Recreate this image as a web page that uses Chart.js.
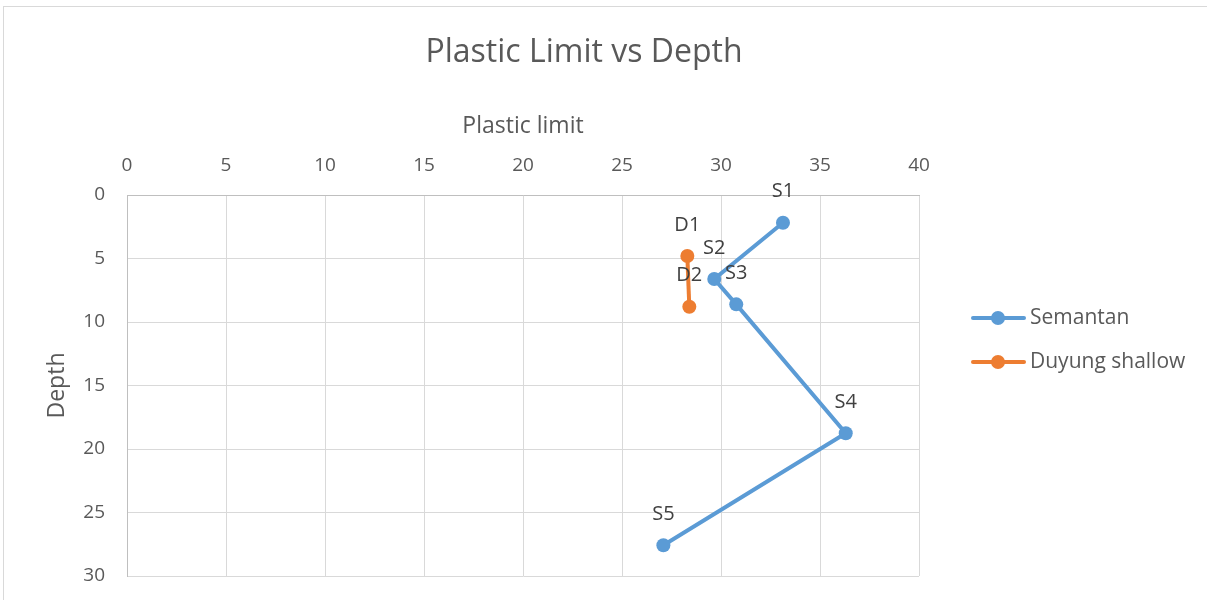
<!DOCTYPE html>
<html>
<head>
<meta charset="utf-8">
<title>Plastic Limit vs Depth</title>
<script src="https://cdn.jsdelivr.net/npm/chart.js@4"></script>
<style>
  body { margin: 0; background: #fff; }
  #wrap { position: relative; width: 1207px; height: 600px; overflow: hidden; }
  #frame { position: absolute; left: 3px; top: 6px; width: 1220px; height: 620px; border: 1px solid #D9D9D9; }
  #chart { position: absolute; left: 0; top: 0; }
</style>
</head>
<body>
<div id="wrap">
  <div id="frame"></div>
  <canvas id="chart" width="1207" height="600"></canvas>
</div>
<script>
const chartTitle = 'Plastic Limit vs Depth';
const seriesNames = ['Semantan', 'Duyung shallow'];

// plastic limit (x) and depth (y) per sample
const semantanPL = [33.13, 29.66, 30.77, 36.30, 27.09];
const semantanDepth = [2.18, 6.61, 8.61, 18.76, 27.58];
const semantanTags = ['S1', 'S2', 'S3', 'S4', 'S5'];

const duyungPL = [28.30, 28.40];
const duyungDepth = [4.80, 8.80];
const duyungTags = ['D1', 'D2'];

const plTicks = [0, 5, 10, 15, 20, 25, 30, 35, 40];
const depthTicks = [0, 5, 10, 15, 20, 25, 30];

const BLUE = '#5B9BD5';
const ORANGE = '#ED7D31';
const TEXT = '#595959';
const FONT = "'Open Sans', 'DejaVu Sans', sans-serif";

function toPoints(xs, ys) {
  return xs.map((x, i) => ({ x: x, y: ys[i] }));
}

// point labels above each marker, plus title and legend
const extras = {
  id: 'extras',
  afterDatasetsDraw(chart) {
    const ctx = chart.ctx;
    ctx.save();
    ctx.font = '20px ' + FONT;
    ctx.fillStyle = '#404040';
    ctx.textAlign = 'center';
    ctx.textBaseline = 'middle';
    chart.data.datasets.forEach((ds, i) => {
      chart.getDatasetMeta(i).data.forEach((pt, j) => {
        ctx.fillText(ds.tags[j], pt.x, pt.y - 31);
      });
    });
    ctx.restore();
  },
  afterDraw(chart) {
    const ctx = chart.ctx;
    ctx.save();
    ctx.fillStyle = TEXT;
    ctx.font = '32px ' + FONT;
    ctx.textAlign = 'center';
    ctx.textBaseline = 'middle';
    ctx.fillText(chartTitle, 584, 53);

    ctx.font = '21px ' + FONT;
    ctx.textAlign = 'left';
    chart.data.datasets.forEach((ds, i) => {
      const y = 318 + i * 44;
      ctx.strokeStyle = ds.borderColor;
      ctx.lineWidth = 4;
      ctx.lineCap = 'round';
      ctx.beginPath();
      ctx.moveTo(973, y);
      ctx.lineTo(1024, y);
      ctx.stroke();
      ctx.fillStyle = ds.backgroundColor;
      ctx.beginPath();
      ctx.arc(998, y, 7, 0, Math.PI * 2);
      ctx.fill();
      ctx.fillStyle = TEXT;
      ctx.fillText(ds.label, 1030, y);
    });
    ctx.restore();
  }
};

new Chart(document.getElementById('chart').getContext('2d'), {
  type: 'scatter',
  data: {
    datasets: [
      {
        label: seriesNames[0],
        data: toPoints(semantanPL, semantanDepth),
        tags: semantanTags,
        showLine: true,
        borderColor: BLUE,
        backgroundColor: BLUE,
        borderWidth: 4,
        pointRadius: 7,
        pointBorderWidth: 0
      },
      {
        label: seriesNames[1],
        data: toPoints(duyungPL, duyungDepth),
        tags: duyungTags,
        showLine: true,
        borderColor: ORANGE,
        backgroundColor: ORANGE,
        borderWidth: 4,
        pointRadius: 7,
        pointBorderWidth: 0
      }
    ]
  },
  options: {
    responsive: false,
    animation: false,
    layout: { padding: { left: 0, top: 0, right: 288, bottom: 24 } },
    plugins: {
      legend: { display: false },
      title: { display: false },
      tooltip: { enabled: false }
    },
    scales: {
      x: {
        type: 'linear',
        position: 'top',
        min: plTicks[0],
        max: plTicks[plTicks.length - 1],
        afterBuildTicks: s => { s.ticks = plTicks.map(v => ({ value: v })); },
        afterFit: s => { s.height = 195; s.paddingLeft = 0; s.paddingRight = 0; },
        ticks: { color: TEXT, font: { family: FONT, size: 19 }, padding: 18 },
        grid: { color: '#D9D9D9', drawTicks: false },
        border: { color: '#BFBFBF' },
        title: {
          display: true,
          text: 'Plastic limit',
          color: TEXT,
          font: { family: FONT, size: 23 },
          padding: { top: 113, bottom: 0 }
        }
      },
      y: {
        type: 'linear',
        reverse: true,
        min: depthTicks[0],
        max: depthTicks[depthTicks.length - 1],
        afterBuildTicks: s => { s.ticks = depthTicks.map(v => ({ value: v })); },
        // keep the plot edges fixed; labels may hang past them
        afterFit: s => { s.width = 127; s.paddingTop = 0; s.paddingBottom = 0; },
        ticks: { color: TEXT, font: { family: FONT, size: 19 }, padding: 22 },
        grid: { color: '#D9D9D9', drawTicks: false },
        border: { color: '#BFBFBF' },
        title: {
          display: true,
          text: 'Depth',
          color: TEXT,
          font: { family: FONT, size: 23 },
          padding: { top: 44, bottom: 0 }
        }
      }
    }
  },
  plugins: [extras]
});
</script>
</body>
</html>
